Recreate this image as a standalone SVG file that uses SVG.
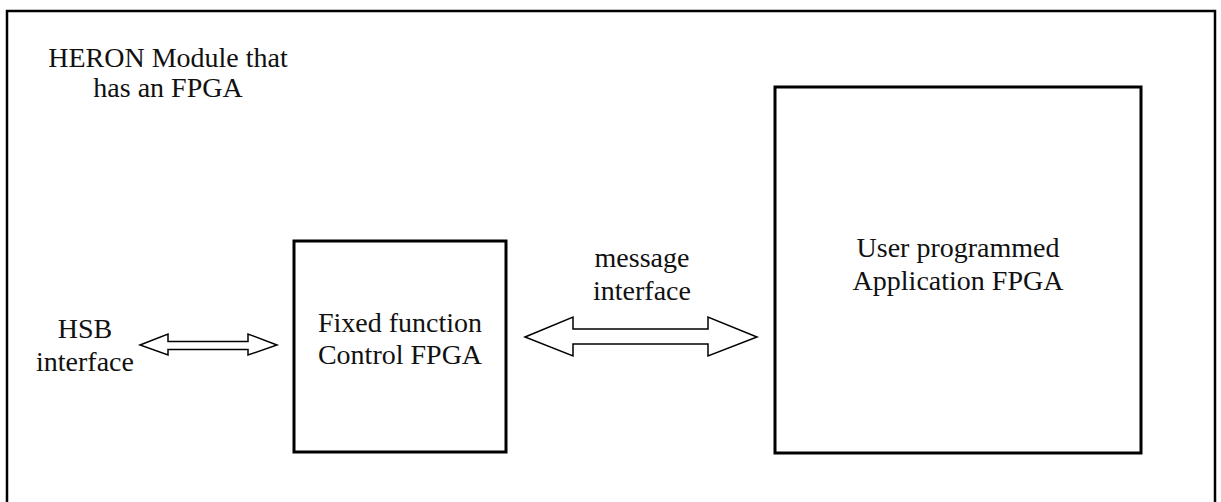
<svg xmlns="http://www.w3.org/2000/svg" width="1221" height="502" viewBox="0 0 1221 502">
<style>
.box{fill:#fff;stroke:#000;stroke-width:3}
.arrow{fill:#fff;stroke:#000;stroke-width:1.5;stroke-linejoin:miter}
text{font-family:"Liberation Serif","Times New Roman",serif;font-size:28px;fill:#111;text-anchor:middle}
</style>
<rect width="1221" height="502" fill="#fff"/>
<g id="frame"><rect x="7" y="11" width="1208" height="500" class="box" style="stroke-width:2.5"/></g>
<g id="heron-label"><text x="168" y="67">HERON Module that</text><text x="168" y="97">has an FPGA</text></g>
<g id="hsb"><text x="85" y="338">HSB</text><text x="85" y="371">interface</text></g>
<g id="fixed"><rect x="294" y="241" width="212" height="211" class="box"/><text x="400" y="332">Fixed function</text><text x="400" y="364">Control FPGA</text></g>
<g id="user"><rect x="775" y="87" width="366" height="366" class="box"/><text x="958" y="257">User programmed</text><text x="958" y="290">Application FPGA</text></g>
<g id="msg-label"><text x="642" y="267">message</text><text x="642" y="300">interface</text></g>
<g id="connectors">
<polygon class="arrow" points="140,345 168,334 168,341.5 248,341.5 248,334 277,345 248,355 248,349.5 168,349.5 168,355"/>
<polygon class="arrow" points="525,337 573,317 573,329 708,329 708,317 757,337 708,356 708,344 573,344 573,356"/>
</g>
</svg>
